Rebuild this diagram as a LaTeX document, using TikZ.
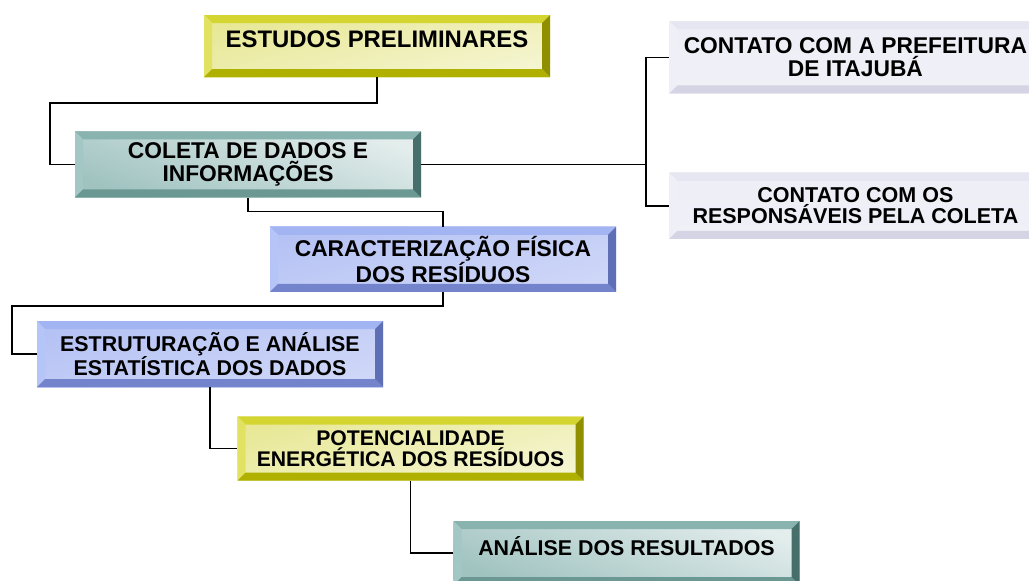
\documentclass[tikz,border=0pt]{standalone}
\usepackage{fontspec}
\setmainfont{Liberation Sans}
\usetikzlibrary{positioning}

\definecolor{ytop}{HTML}{D5D531}
\definecolor{yleft}{HTML}{E2E262}
\definecolor{yright}{HTML}{8F8F00}
\definecolor{ybot}{HTML}{B0B000}
\definecolor{yface}{HTML}{E2E27C}
\definecolor{ttop}{HTML}{89B3AF}
\definecolor{tleft}{HTML}{A3C7C4}
\definecolor{tright}{HTML}{466F6C}
\definecolor{tbot}{HTML}{6C9894}
\definecolor{tface}{HTML}{8FB8B5}
\definecolor{btop}{HTML}{A3B4F2}
\definecolor{bleft}{HTML}{B6C5F8}
\definecolor{bright}{HTML}{5F6FB5}
\definecolor{bbot}{HTML}{7383CC}
\definecolor{bface}{HTML}{A8B7F2}
\definecolor{ltop}{HTML}{E6E6F2}
\definecolor{lleft}{HTML}{EFEFF7}
\definecolor{lright}{HTML}{C8C8DA}
\definecolor{lbot}{HTML}{D4D4E4}
\definecolor{lface}{HTML}{E6E6F2}

\newcommand\boxsize[1]{\fontsize{#1}{#1}\selectfont\bfseries}

\tikzset{
  bevel/.style n args={4}{path picture={
    \fill[#1] (path picture bounding box.north west) -- (path picture bounding box.north east)
      -- ([shift={(-8pt,-8pt)}]path picture bounding box.north east)
      -- ([shift={(8pt,-8pt)}]path picture bounding box.north west) -- cycle;
    \fill[#2] (path picture bounding box.north west) -- (path picture bounding box.south west)
      -- ([shift={(8pt,8pt)}]path picture bounding box.south west)
      -- ([shift={(8pt,-8pt)}]path picture bounding box.north west) -- cycle;
    \fill[#4] (path picture bounding box.south west) -- (path picture bounding box.south east)
      -- ([shift={(-8pt,8pt)}]path picture bounding box.south east)
      -- ([shift={(8pt,8pt)}]path picture bounding box.south west) -- cycle;
    \fill[#3] (path picture bounding box.north east) -- (path picture bounding box.south east)
      -- ([shift={(-8pt,8pt)}]path picture bounding box.south east)
      -- ([shift={(-8pt,-8pt)}]path picture bounding box.north east) -- cycle;
  }},
  box/.style={rectangle, minimum width=346pt, minimum height=64pt, inner sep=0pt,
    align=center, font=\boxsize{22.8}},
  yelbox/.style={box, top color=yface!80, middle color=white, bottom color=yface!35,
    shading angle=15, bevel={ytop}{yleft}{yright}{ybot}},
  tealbox/.style={box, top color=tface!25, middle color=white, bottom color=tface!85,
    shading angle=-20, bevel={ttop}{tleft}{tright}{tbot}},
  bluebox/.style={box, top color=bface!85, middle color=white, bottom color=bface!55,
    shading angle=15, bevel={btop}{bleft}{bright}{bbot}},
  lavbox/.style={box, minimum width=372pt, top color=lface!70, middle color=white,
    bottom color=lface!60, bevel={ltop}{lleft}{lright}{lbot}},
  link/.style={draw=black, line width=1.6pt},
}

\begin{document}
\begin{tikzpicture}[x=1pt,y=1pt]
  \useasboundingbox (0,0) rectangle (1029,-581);

  \node[yelbox, minimum height=62pt, font=\boxsize{23.9}] (est) at (377,-46)
    {\raisebox{7pt}[\height][\depth]{ESTUDOS PRELIMINARES}};
  \node[tealbox, minimum height=66pt] (col) [below=54pt of est, xshift=-129pt]
    {COLETA DE DADOS E\\INFORMAÇÕES};
  \node[bluebox, minimum height=65pt] (car) [below=29pt of col, xshift=195pt]
    {CARACTERIZAÇÃO FÍSICA\\DOS RESÍDUOS};
  \node[bluebox, minimum height=66pt, font=\boxsize{21.4}] (estr) [below=29pt of car, xshift=-233pt]
    {ESTRUTURAÇÃO E ANÁLISE\\ESTATÍSTICA DOS DADOS};
  \node[yelbox, font=\boxsize{21.2}] (pot) [below=29pt of estr, xshift=200.5pt]
    {POTENCIALIDADE\\ENERGÉTICA DOS RESÍDUOS};
  \node[tealbox, font=\boxsize{21.4}] (ana) [below=40pt of pot, xshift=216pt]
    {\raisebox{7pt}[\height][\depth]{ANÁLISE DOS RESULTADOS}};

  \node[lavbox, minimum height=72pt] (pref) [above right=107pt and 248pt of col.east, anchor=west]
    {CONTATO COM A PREFEITURA\\DE ITAJUBÁ};
  \node[lavbox, minimum height=66pt, font=\boxsize{21.5}] (resp) [below=79pt of pref]
    {CONTATO COM OS\\RESPONSÁVEIS PELA COLETA};

  \coordinate (fork) at ([xshift=225pt]col.east);

  \draw[link] (est.south) -- ++(0,-26) -| ([xshift=-25pt]col.west) -- (col.west);
  \draw[link] (col.south) -- ++(0,-14) -| (car.north);
  \draw[link] (car.south) -- ++(0,-14) -| ([xshift=-25pt]estr.west) -- (estr.west);
  \draw[link] (estr.south) |- (pot.west);
  \draw[link] (pot.south) |- (ana.west);
  \draw[link] (col.east) -- (fork);
  \draw[link] (pref.west) -| (fork) |- (resp.west);
\end{tikzpicture}
\end{document}
